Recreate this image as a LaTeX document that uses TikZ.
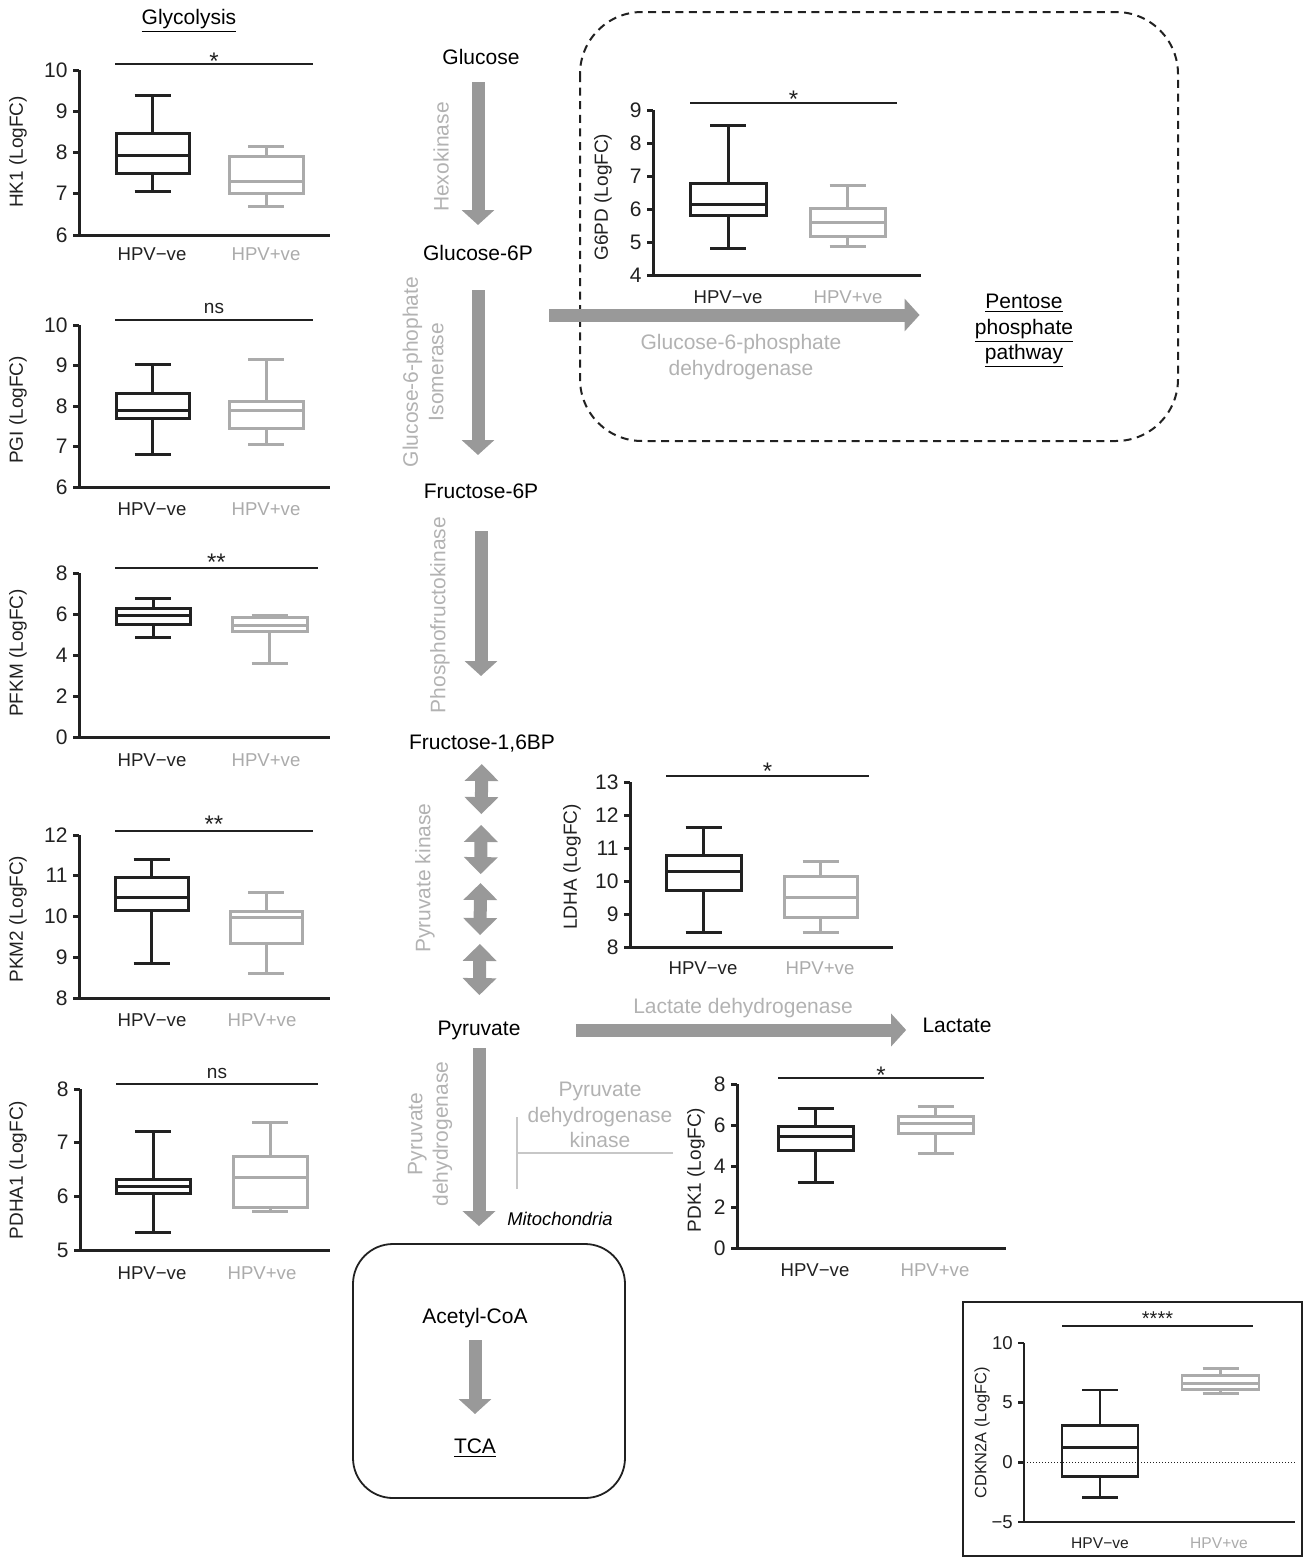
\documentclass[tikz,border=0pt]{standalone}
\usepackage{fontspec}
\setmainfont{Liberation Sans}
\usetikzlibrary{arrows.meta,calc}

\definecolor{ink}{gray}{0.13}
\definecolor{lightgrp}{gray}{0.67}
\definecolor{arrowgray}{gray}{0.6}
\definecolor{enzgray}{gray}{0.7}
\definecolor{inhibgray}{gray}{0.78}

\begin{document}
\begin{tikzpicture}
  [x=0.5pt,y=-0.5pt
  ,met/.style={inner sep=0pt,align=center,text=black,font=\fontsize{10.5}{12.75}\selectfont}
  ,enz/.style={met,text=enzgray}
  ,fat/.style={draw=arrowgray,line width=6.5pt,-{Triangle[width=16pt,length=7.5pt]}}
  ,dfat/.style={draw=arrowgray,line width=6.5pt,{Triangle[width=16.5pt,length=8.5pt]}-{Triangle[width=16.5pt,length=8.5pt]}}
  ,axline/.style={draw=ink,line width=1.5pt}
  ,hpvneg/.style={draw=ink,line width=1.5pt}
  ,hpvpos/.style={draw=lightgrp,line width=1.5pt}
  ,ticklab/.style={anchor=east,inner sep=2pt,text=ink,font=\fontsize{10.5}{12}\selectfont}
  ,ylab/.style={rotate=90,inner sep=0pt,text=ink,font=\fontsize{9.5}{11}\selectfont}
  ,grp/.style={inner sep=0pt,font=\fontsize{9.3}{11}\selectfont}
  ,sigline/.style={draw=ink,line width=0.9pt}
  ,sigtext/.style={inner sep=0pt,text=ink,font=\fontsize{9.5}{11}\selectfont}
  ,inhib/.style={draw=inhibgray,line width=0.8pt,-{Bar[width=36pt]}}
  ]

  \useasboundingbox (0,0) rectangle (1303,1558);

  % Plot axes
  %
  % #1 - plot name
  % #2 - axis x
  % #3 - lowest value
  % #4 - highest value
  % #5 - x-axis end
  % #6 - tick values
  \newcommand{\yaxis}[6]{
    \draw[axline] (#2,#4) -- (#2,#3) -- (#5,#3);
    \foreach \v/\t in {#6}
      \draw[axline] (#2,\v) -- ++(-6,0) node[ticklab] (#1-\v) {\t};
  }

  % Box and whiskers
  %
  % #1 - left
  % #2 - right
  % #3 - #7 - min, q1, median, q3, max
  % #8 - style
  \newcommand{\bplot}[8]{
    \draw[#8] (#1,#4) rectangle (#2,#6);
    \draw[#8] (#1,#5) -- (#2,#5);
    \draw[#8] ({(#1+#2)/2},#4) -- ({(#1+#2)/2},#3) ++(-18,0) -- ++(36,0);
    \draw[#8] ({(#1+#2)/2},#6) -- ({(#1+#2)/2},#7) ++(-18,0) -- ++(36,0);
  }

  % Group labels
  %
  % #1 - plot name
  % #2 - HPV-ve x
  % #3 - HPV+ve x
  % #4 - y
  \newcommand{\groups}[4]{
    \node[grp,text=ink] (#1-neg) at (#2,#4) {HPV−ve};
    \node[grp,text=lightgrp] (#1-pos) at (#3,#4) {HPV+ve};
  }

  % Significance bar
  %
  % #1 - plot name
  % #2 - start
  % #3 - end
  % #4 - y
  % #5 - text
  % #6 - text y
  \newcommand{\sig}[6]{
    \draw[sigline] (#2,#4) -- (#3,#4);
    \node[sigtext] (#1-sig) at ({(#2+#3)/2},#6) {#5};
  }

  % glycolysis plots
  \node[met] (glyco) at (189,21) {\underline{Glycolysis}};

  % HK1
  \begin{scope}[shift={(0,235)},y=20.625pt,shift={(0,-6)}]
    \yaxis{hk}{79}{6}{10}{330}{6,7,8,9,10}
    \bplot{116}{189}{7.05}{7.5}{7.92}{8.45}{9.37}{hpvneg}
    \bplot{229}{303}{6.7}{7.0}{7.3}{7.9}{8.15}{hpvpos}
  \end{scope}
  \node[ylab] (hk-ylab) at (18,152) {HK1 (LogFC)};
  \groups{hk}{152}{266}{254}
  \sig{hk}{115}{313}{64}{\fontsize{12}{12}\selectfont*}{61}

  % PGI
  \begin{scope}[shift={(0,487)},y=20.25pt,shift={(0,-6)}]
    \yaxis{pgi}{79}{6}{10}{330}{6,7,8,9,10}
    \bplot{116}{189}{6.8}{7.68}{7.88}{8.3}{9.02}{hpvneg}
    \bplot{229}{303}{7.05}{7.45}{7.88}{8.1}{9.15}{hpvpos}
  \end{scope}
  \node[ylab] (pgi-ylab) at (18,410) {PGI (LogFC)};
  \groups{pgi}{152}{266}{509}
  \sig{pgi}{115}{313}{320}{ns}{308}

  % PFKM
  \begin{scope}[shift={(0,737)},y=10.25pt]
    \yaxis{pfk}{79}{0}{8}{330}{0,2,4,6,8}
    \bplot{116}{190}{4.85}{5.5}{5.95}{6.25}{6.75}{hpvneg}
    \bplot{232}{307}{3.6}{5.15}{5.45}{5.85}{5.95}{hpvpos}
  \end{scope}
  \node[ylab] (pfk-ylab) at (18,653) {PFKM (LogFC)};
  \groups{pfk}{152}{266}{760}
  \sig{pfk}{115}{318}{568}{\fontsize{12}{12}\selectfont**}{562}

  % PKM2
  \begin{scope}[shift={(0,998)},y=20.375pt,shift={(0,-8)}]
    \yaxis{pkm}{79}{8}{12}{330}{8,9,10,11,12}
    \bplot{115}{188}{8.85}{10.15}{10.47}{10.95}{11.4}{hpvneg}
    \bplot{230}{302}{8.6}{9.33}{9.97}{10.13}{10.6}{hpvpos}
  \end{scope}
  \node[ylab] (pkm-ylab) at (18,919) {PKM2 (LogFC)};
  \groups{pkm}{152}{262}{1020}
  \sig{pkm}{115}{313}{831}{\fontsize{12}{12}\selectfont**}{824}

  % PDHA1
  \begin{scope}[shift={(0,1250)},y=26.83pt,shift={(0,-5)}]
    \yaxis{pdha}{80}{5}{8}{330}{5,6,7,8}
    \bplot{116}{190}{5.33}{6.05}{6.18}{6.32}{7.2}{hpvneg}
    \bplot{233}{307}{5.72}{5.8}{6.35}{6.75}{7.38}{hpvpos}
  \end{scope}
  \node[ylab] (pdha-ylab) at (18,1170) {PDHA1 (LogFC)};
  \groups{pdha}{152}{262}{1273}
  \sig{pdha}{116}{318}{1084}{ns}{1073}

  % pentose phosphate pathway
  \draw[ink,line width=1pt,dash pattern=on 4pt off 2.8pt,rounded corners=31pt]
    (580,12) rectangle (1178,441);

  % G6PD
  \begin{scope}[shift={(0,275)},y=16.5pt,shift={(0,-4)}]
    \yaxis{g6pd}{653}{4}{9}{921}{4,5,6,7,8,9}
    \bplot{690}{766}{4.8}{5.8}{6.15}{6.78}{8.52}{hpvneg}
    \bplot{810}{885}{4.87}{5.18}{5.6}{6.03}{6.72}{hpvpos}
  \end{scope}
  \node[ylab] (g6pd-ylab) at (603,197) {G6PD (LogFC)};
  \groups{g6pd}{728}{848}{297}
  \sig{g6pd}{690}{897}{103}{\fontsize{12}{12}\selectfont*}{99}

  % LDHA
  \begin{scope}[shift={(0,947)},y=16.5pt,shift={(0,-8)}]
    \yaxis{ldha}{630}{8}{13}{893}{8,9,10,11,12,13}
    \bplot{666}{741}{8.45}{9.72}{10.28}{10.78}{11.62}{hpvneg}
    \bplot{784}{857}{8.45}{8.88}{9.5}{10.15}{10.6}{hpvpos}
  \end{scope}
  \node[ylab] (ldha-ylab) at (572,867) {LDHA (LogFC)};
  \groups{ldha}{703}{820}{968}
  \sig{ldha}{666}{869}{776}{\fontsize{12}{12}\selectfont*}{771}

  % PDK1
  \begin{scope}[shift={(0,1248)},y=10.25pt]
    \yaxis{pdk}{737}{0}{8}{1006}{0,2,4,6,8}
    \bplot{778}{853}{3.2}{4.75}{5.45}{5.95}{6.8}{hpvneg}
    \bplot{898}{973}{4.6}{5.6}{6.05}{6.4}{6.9}{hpvpos}
  \end{scope}
  \node[ylab] (pdk-ylab) at (696,1170) {PDK1 (LogFC)};
  \groups{pdk}{815}{935}{1270}
  \sig{pdk}{778}{984}{1078}{\fontsize{12}{12}\selectfont*}{1075}

  % CDKN2A
  \draw[ink,line width=1pt] (963,1302) rectangle (1302,1556);
  \begin{scope}[shift={(0,1522)},y=5.967pt,shift={(0,5)}
    ,ticklab/.append style={font=\fontsize{9.3}{11}\selectfont}
    ,hpvneg/.append style={line width=1.3pt}
    ,hpvpos/.append style={line width=1.3pt}
    ,axline/.append style={line width=1.3pt}
    ]
    \draw[ink,line width=0.6pt,dash pattern=on 0.6pt off 0.9pt] (1024,0) -- (1295,0);
    \yaxis{cdk}{1024}{-5}{10}{1295}{-5/−5,0,5,10}
    \bplot{1062}{1138}{-2.95}{-1.2}{1.25}{3.1}{6.05}{hpvneg}
    \bplot{1182}{1259}{5.75}{6.1}{6.6}{7.3}{7.85}{hpvpos}
  \end{scope}
  \node[ylab,font=\fontsize{8.2}{10}\selectfont] (cdk-ylab) at (982,1433) {CDKN2A (LogFC)};
  \begin{scope}[grp/.append style={font=\fontsize{7.8}{9}\selectfont}]
    \groups{cdk}{1100}{1219}{1543}
    \sig{cdk}{1062}{1253}{1326}{\fontsize{10}{10}\selectfont****}{1319}
  \end{scope}

  % metabolites
  \node[met] (glc) at (481,57) {Glucose};
  \node[met] (g6p) at (478,253) {Glucose-6P};
  \node[met] (f6p) at (481,491) {Fructose-6P};
  \node[met] (f16bp) at (482,744) {Fructose-1,6BP};
  \node[met] (pyr) at (479,1030) {Pyruvate};
  \node[met] (lac) at (957,1025) {Lactate};
  \node[met] (ppp) at (1024,331) {\underline{Pentose}\\\underline{phosphate}\\\underline{pathway}};

  % mitochondria
  \node[draw=ink,line width=0.9pt,rounded corners=20pt,minimum width=136pt,minimum height=127pt]
    (mito) at (489,1371) {};
  \node[met] (acoa) at (475,1318) {Acetyl-CoA};
  \node[met] (tca) at (475,1448) {\underline{TCA}};
  \node[met,font=\fontsize{9.2}{11}\selectfont\itshape] (mitolab) at (560,1219) {Mitochondria};

  % enzymes
  \node[enz,rotate=90] (hexo) at (441,157) {Hexokinase};
  \node[enz,rotate=90] (gpi) at (423,372) {Glucose-6-phophate\\Isomerase};
  \node[enz,rotate=90] (pfkz) at (440,615) {Phosphofructokinase};
  \node[enz,rotate=90] (pkz) at (425,878) {Pyruvate kinase};
  \node[enz,rotate=90] (pdhz) at (430,1134) {Pyruvate\\dehydrogenase};
  \node[enz] (g6pdh) at (741,357) {Glucose-6-phosphate\\dehydrogenase};
  \node[enz] (ldh) at (743,1008) {Lactate dehydrogenase};
  \node[enz] (pdkz) at (600,1115) {Pyruvate\\dehydrogenase\\kinase};

  % pathway arrows
  \draw[fat,shorten <=12.5pt,shorten >=14pt] (glc.center -| g6p.center) -- (g6p.center);
  \draw[fat,shorten <=18.5pt,shorten >=18pt] (g6p.center) -- (g6p.center |- f6p.center);
  \draw[fat,shorten <=20pt,shorten >=34pt] (f6p.center) -- (f6p.center |- f16bp.center);
  \foreach \a/\b in {0.07/0.245,0.283/0.455,0.486/0.668,0.699/0.878}
    \draw[dfat] ($(f16bp.center)!\a!(pyr.center)$) -- ($(f16bp.center)!\b!(pyr.center)$);
  \coordinate (g6pout) at ([shift={(71,62)}]g6p.center);
  \draw[fat,shorten >=27.5pt] (g6pout) -- (g6pout -| ppp.west);
  \draw[fat,shorten <=27.5pt,shorten >=8pt] (pyr.east) -- (pyr.east -| lac.west);
  \draw[fat,shorten <=9pt,shorten >=8.5pt] (pyr.center) -- (pyr.center |- mito.north);
  \draw[fat,shorten <=11pt,shorten >=17pt] (acoa.center) -- (tca.center);

  % PDK inhibition
  \coordinate (pdkstart) at (673,1153);
  \coordinate (pdkbar) at (516,1153);
  \draw[inhib] (pdkstart) -- (pdkbar);

\end{tikzpicture}
\end{document}
